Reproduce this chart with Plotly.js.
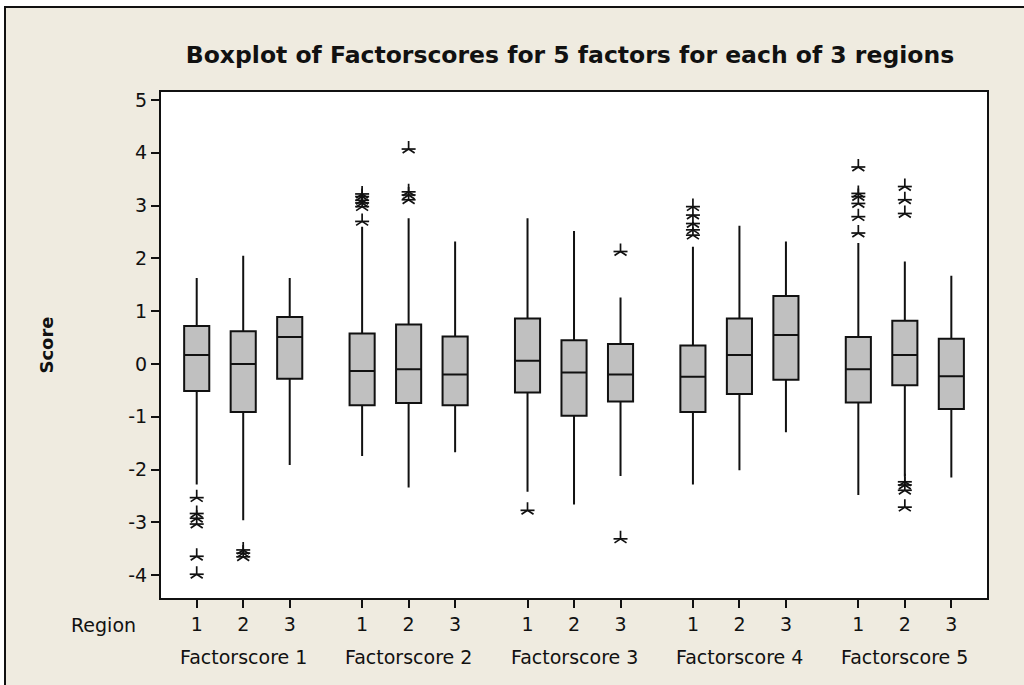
<!DOCTYPE html>
<html>
<head>
<meta charset="utf-8">
<script src="https://cdn.plot.ly/plotly-3.0.1.min.js"></script>
<style>
  html, body { margin: 0; padding: 0; background: #ffffff; }
  #frame { position: absolute; left: 4px; top: 6px; width: 1020px; height: 679px;
           box-sizing: border-box; border-left: 2px solid #111; border-top: 2px solid #111;
           background: #EFEBE0; overflow: hidden; }
  #chart { position: absolute; left: 0; top: 0; width: 1018px; height: 677px; }
</style>
</head>
<body>
<div id="frame"><div id="chart"></div></div>
<script>
// ---- data ----
const factors = ["Factorscore 1", "Factorscore 2", "Factorscore 3", "Factorscore 4", "Factorscore 5"];
const regions = ["1", "2", "3"];

// statistics per box, in order FS1 R1, R2, R3, FS2 R1, ... FS5 R3
const upperWhisker = [1.63, 2.05, 1.63, 2.60, 2.76, 2.32, 2.76, 2.52, 1.26, 2.22, 2.62, 2.32, 2.29, 1.94, 1.67];
const q3Values     = [0.72, 0.62, 0.89, 0.58, 0.75, 0.52, 0.86, 0.45, 0.38, 0.35, 0.86, 1.29, 0.51, 0.82, 0.48];
const medianValues = [0.17, 0.00, 0.51, -0.13, -0.10, -0.20, 0.06, -0.16, -0.20, -0.24, 0.17, 0.55, -0.10, 0.17, -0.23];
const q1Values     = [-0.51, -0.91, -0.28, -0.78, -0.74, -0.78, -0.54, -0.98, -0.71, -0.91, -0.57, -0.30, -0.73, -0.40, -0.85];
const lowerWhisker = [-2.28, -2.96, -1.91, -1.74, -2.34, -1.67, -2.42, -2.66, -2.12, -2.28, -2.01, -1.29, -2.48, -2.13, -2.15];

// outliers: index of the box they belong to, and value
const outlierBox   = [0, 0, 0, 0, 0, 0,
                      1, 1, 1,
                      3, 3, 3, 3, 3, 3,
                      4, 4, 4, 4,
                      6,
                      8, 8,
                      9, 9, 9, 9, 9,
                      12, 12, 12, 12, 12, 12,
                      13, 13, 13, 13, 13, 13, 13];
const outlierValue = [-2.53, -2.83, -2.92, -3.03, -3.64, -3.98,
                      -3.52, -3.58, -3.65,
                      2.70, 2.98, 3.05, 3.10, 3.17, 3.22,
                      4.07, 3.26, 3.20, 3.11,
                      -2.77,
                      2.13, -3.31,
                      2.44, 2.54, 2.66, 2.82, 2.98,
                      2.48, 2.79, 3.04, 3.17, 3.23, 3.73,
                      3.36, 3.11, 2.85, -2.23, -2.29, -2.39, -2.71];

const yTicks = [-4, -3, -2, -1, 0, 1, 2, 3, 4, 5];

// ---- layout helpers (positions on the x scale) ----
const groupStep = 3.557;
const boxX = [];
const boxLabels = [];
factors.forEach((f, g) => regions.forEach((r, i) => { boxX.push(g * groupStep + i); boxLabels.push(r); }));
const groupCenters = factors.map((f, g) => g * groupStep + 1);

const outX = outlierBox.map(i => boxX[i]);

const FONT = "DejaVu Sans, Verdana, sans-serif";

const traces = [
  {
    type: "box",
    x: boxX,
    q1: q1Values,
    median: medianValues,
    q3: q3Values,
    lowerfence: lowerWhisker,
    upperfence: upperWhisker,
    width: 0.54,
    whiskerwidth: 0,
    boxpoints: false,
    fillcolor: "#C0C0C0",
    line: { color: "#111111", width: 2 },
    hoverinfo: "skip",
    showlegend: false
  },
  {
    type: "scatter", mode: "markers",
    x: outX, y: outlierValue,
    marker: { symbol: "y-up-open", size: 10, color: "#111", line: { color: "#111", width: 1.7 } },
    hoverinfo: "skip", showlegend: false
  },
  {
    type: "scatter", mode: "markers",
    x: outX, y: outlierValue,
    marker: { symbol: "line-ew-open", size: 10, color: "#111", line: { color: "#111", width: 1.7 } },
    hoverinfo: "skip", showlegend: false
  }
];

const annotations = factors.map((f, g) => ({
  text: f, x: groupCenters[g], xref: "x", y: 0, yref: "paper",
  yshift: -59, yanchor: "middle", xanchor: "center", showarrow: false,
  font: { family: FONT, size: 19, color: "#111" }
}));
annotations.push({
  text: "Region", x: -0.0702, xref: "paper", y: 0, yref: "paper",
  yshift: -27, yanchor: "middle", xanchor: "center", showarrow: false,
  font: { family: FONT, size: 19, color: "#111" }
});

const layout = {
  width: 1018, height: 677,
  paper_bgcolor: "rgba(0,0,0,0)",
  plot_bgcolor: "#ffffff",
  margin: { l: 155, r: 37, t: 84, b: 87, pad: 0 },
  title: {
    text: "<b>Boxplot of Factorscores for 5 factors for each of 3 regions</b>",
    x: 0.554, xref: "container", xanchor: "center",
    y: 0.9306, yref: "container", yanchor: "middle",
    font: { family: FONT, size: 23.5, color: "#111" }
  },
  xaxis: {
    range: [-0.768, 16.995],
    tickmode: "array", tickvals: boxX, ticktext: boxLabels,
    ticks: "outside", ticklen: 8, tickwidth: 2, tickcolor: "#111",
    showgrid: false, zeroline: false,
    showline: true, linewidth: 2, linecolor: "#111", mirror: true,
    tickfont: { family: FONT, size: 19, color: "#111" }
  },
  yaxis: {
    range: [-4.43, 5.15],
    tickmode: "array", tickvals: yTicks, ticktext: yTicks.map(String),
    ticks: "outside", ticklen: 8, tickwidth: 2, tickcolor: "#111",
    showgrid: false, zeroline: false,
    showline: true, linewidth: 2, linecolor: "#111", mirror: true,
    tickfont: { family: FONT, size: 19, color: "#111" },
    title: { text: "<b>Score</b>", standoff: 70, font: { family: FONT, size: 18, color: "#111" } }
  },
  annotations: annotations,
  showlegend: false
};

Plotly.newPlot("chart", traces, layout, { staticPlot: true, displayModeBar: false });
</script>
</body>
</html>
